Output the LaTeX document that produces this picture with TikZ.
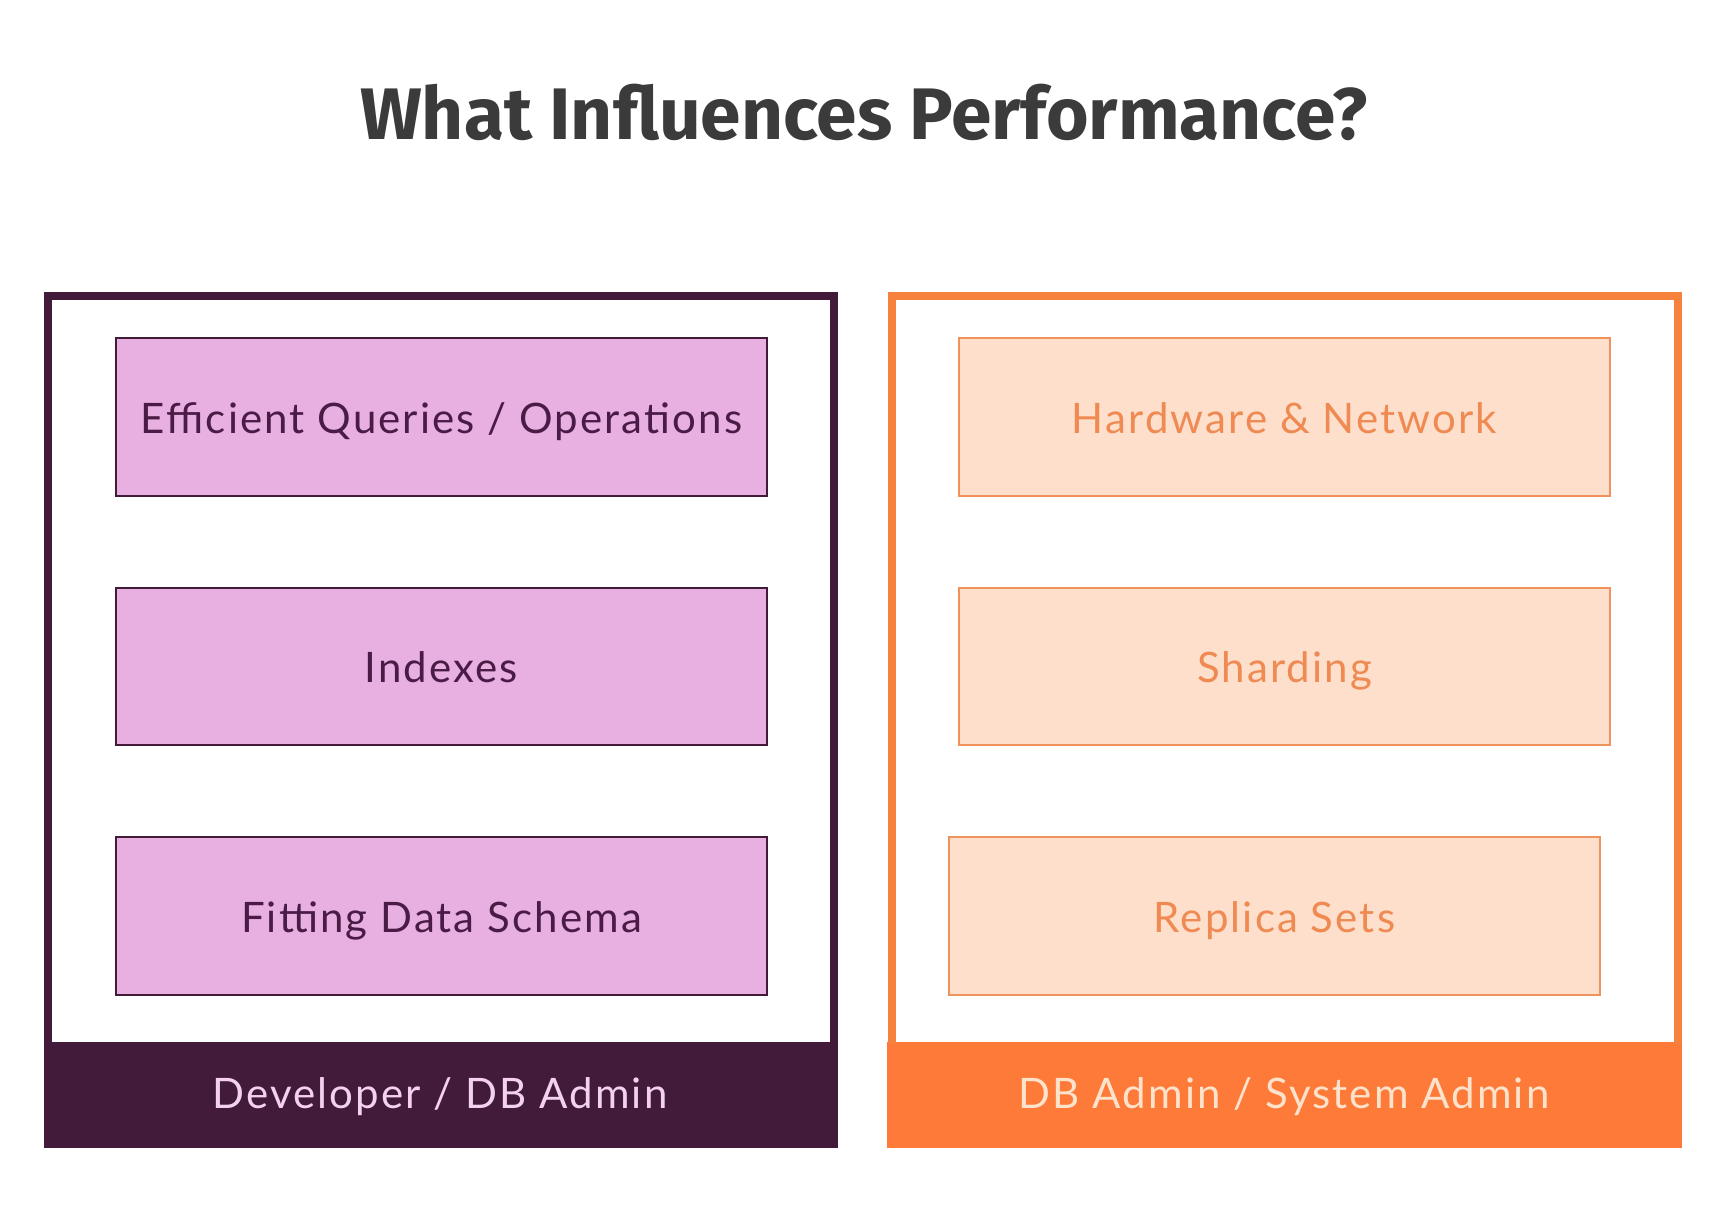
\documentclass[tikz,border=0pt]{standalone}
\usepackage{fontspec}
\setmainfont{Lato}[LetterSpace=5]
\newfontfamily\titlefont{Fira Sans}
\definecolor{devdark}{HTML}{421A3A}
\definecolor{devfill}{HTML}{E8B0E0}
\definecolor{devtext}{HTML}{4A1C45}
\definecolor{devband}{HTML}{F2D2EE}
\definecolor{opsline}{HTML}{F7823E}
\definecolor{opsfill}{HTML}{FDDFCC}
\definecolor{opsbox}{HTML}{F0925C}
\definecolor{opstext}{HTML}{EF8A52}
\definecolor{opsband}{HTML}{FD7A38}
\definecolor{opsbandtext}{HTML}{FDE2CC}
\definecolor{titlegray}{HTML}{3B3B3B}
\begin{document}
\begin{tikzpicture}[x=1pt,y=-1pt,
  itemfont/.style={font=\fontsize{42}{48}\selectfont,anchor=base},
  devitem/.style={draw=devdark,line width=2.6pt,fill=devfill},
  opsitem/.style={draw=opsbox,line width=2.6pt,fill=opsfill},
  bandlabel/.style={font=\fontsize{42}{48}\selectfont,anchor=base}]
\useasboundingbox[fill=white] (0,0) rectangle (1716,1214);

% title
\node[font=\titlefont\bfseries\fontsize{73}{84}\selectfont,text=titlegray,anchor=base]
  (title) at (864,140) {What Influences Performance?};

% developer column
\fill[devdark] (44,1042) rectangle (838,1148);
\draw[devdark,line width=8pt] (48,1044) -- (48,296.5) -- (833.5,296.5) -- (833.5,1044);
\node[bandlabel,text=devband] (devrole) at (440,1108) {Developer / DB Admin};

\path[devitem] (116,338) rectangle (767,496);
\node[itemfont,text=devtext] (queries) at (441.5,433) {Efficient Queries / Operations};
\path[devitem] (116,588) rectangle (767,745);
\node[itemfont,text=devtext] (indexes) at (441.5,682.5) {Indexes};
\path[devitem] (116,837) rectangle (767,995);
\node[itemfont,text=devtext] (schema) at (441.5,932) {Fitting Data Schema};

% admin column
\fill[opsband] (887,1042) rectangle (1682,1148);
\draw[opsline,line width=8pt] (891.5,1044) -- (891.5,296.5) -- (1678,296.5) -- (1678,1044);
\node[bandlabel,text=opsbandtext] (opsrole) at (1284,1108) {DB Admin / System Admin};

\path[opsitem] (959,338) rectangle (1610,496);
\node[itemfont,text=opstext] (hardware) at (1284.5,433) {Hardware \& Network};
\path[opsitem] (959,588) rectangle (1610,745);
\node[itemfont,text=opstext] (sharding) at (1284.5,682.5) {Sharding};
\path[opsitem] (949,837) rectangle (1600,995);
\node[itemfont,text=opstext] (replica) at (1274.5,932) {Replica Sets};
\end{tikzpicture}
\end{document}
